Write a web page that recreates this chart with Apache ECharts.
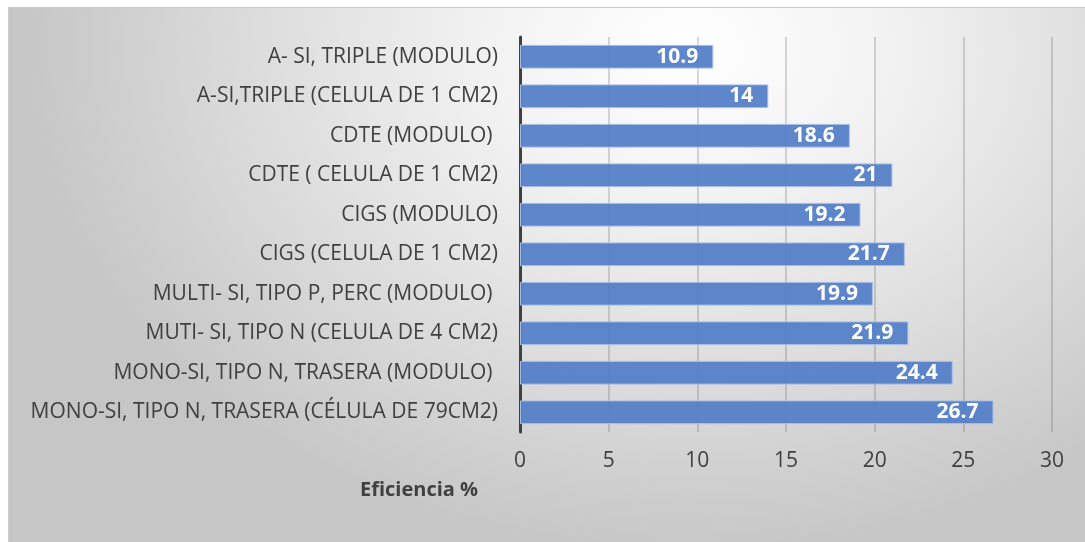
<!DOCTYPE html>
<html><head><meta charset="utf-8">
<script src="https://cdn.jsdelivr.net/npm/echarts@6/dist/echarts.min.js"></script>
<style>
html,body{margin:0;padding:0;background:#fff;width:1085px;height:542px;overflow:hidden;}
#bg{position:absolute;left:8px;top:7px;width:1077px;height:534px;border-top:1px solid #c8c8c8;border-left:1px solid #d0d0d0;
background:radial-gradient(ellipse 62% 95% at 63% 8%, #ffffff 0%, #f2f2f2 30%, #dcdcdc 65%, #c6c6c6 100%);}
#chart{position:absolute;left:0;top:0;width:1085px;height:542px;}
</style></head>
<body><div id="bg"></div><div id="chart"></div>
<script>
const categories = [
  "A- SI, TRIPLE (MODULO)",
  "A-SI,TRIPLE (CELULA DE 1 CM2)",
  "CDTE (MODULO) ",
  "CDTE ( CELULA DE 1 CM2)",
  "CIGS (MODULO)",
  "CIGS (CELULA DE 1 CM2)",
  "MULTI- SI, TIPO P, PERC (MODULO) ",
  "MUTI- SI, TIPO N (CELULA DE 4 CM2)",
  "MONO-SI, TIPO N, TRASERA (MODULO) ",
  "MONO-SI, TIPO N, TRASERA (CÉLULA DE 79CM2)"
];
const efficiency = [10.9, 14, 18.6, 21, 19.2, 21.7, 19.9, 21.9, 24.4, 26.7];
const xTicks = [0, 5, 10, 15, 20, 25, 30];
const axisTitle = "Eficiencia %";

const chart = echarts.init(document.getElementById('chart'), null, {renderer:'canvas'});
const font = "'Open Sans', 'Noto Sans', sans-serif";
chart.setOption({
  backgroundColor: 'transparent',
  animation: false,
  grid: {left: 520, right: 33, top: 37, bottom: 110, containLabel: false},
  xAxis: {
    type: 'value', min: xTicks[0], max: xTicks[xTicks.length-1], interval: 5,
    axisLine: {show: false}, axisTick: {show: false},
    splitLine: {show: true, lineStyle: {color: 'rgba(80,80,80,0.3)', width: 1.5}},
    axisLabel: {color: '#404040', fontSize: 21, fontFamily: font, margin: 19}
  },
  yAxis: {
    type: 'category', data: categories, inverse: true,
    axisLine: {show: true, onZero: false, lineStyle: {color: '#404040', width: 3}},
    axisTick: {show: false},
    axisLabel: {color: '#404040', fontSize: 21, fontFamily: font, margin: 22}
  },
  graphic: [{
    type: 'text', left: 360, top: 480,
    style: {text: axisTitle, fill: '#404040', font: "bold 20px 'Open Sans', sans-serif"}
  }],
  series: [{
    type: 'bar', data: efficiency, barCategoryGap: '40%',
    itemStyle: {color: 'rgba(84,127,200,0.95)', borderColor: '#a9bde3', borderWidth: 1},
    label: {show: true, position: 'insideRight', distance: 15, color: '#ffffff',
      fontSize: 21, fontWeight: 'bold', fontFamily: font}
  }]
});
</script></body></html>
